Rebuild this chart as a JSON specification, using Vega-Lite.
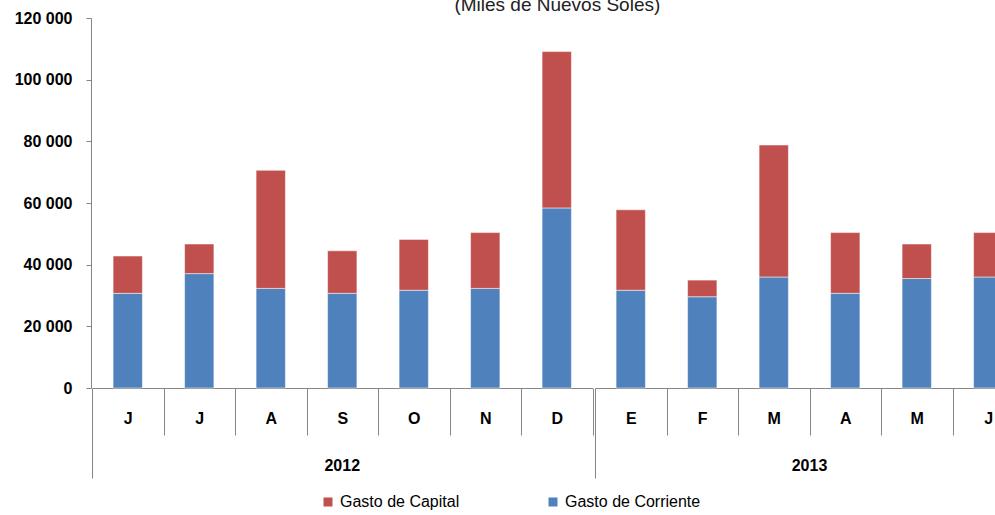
{
  "$schema": "https://vega.github.io/schema/vega-lite/v6.json",
  "padding": {"left": 14, "top": -4, "right": -26, "bottom": 0},
  "background": "white",
  "title": {"text": "(Miles de Nuevos Soles)", "fontSize": 19, "fontWeight": "normal", "font": "Liberation Sans", "color": "#222222", "anchor": "middle", "offset": -5, "dx": 38},
  "data": {"values": [
    {"year": "2012", "mes": "2012-06|J", "tipo": "Gasto de Corriente", "valor": 30700},
    {"year": "2012", "mes": "2012-06|J", "tipo": "Gasto de Capital", "valor": 12100},
    {"year": "2012", "mes": "2012-07|J", "tipo": "Gasto de Corriente", "valor": 37100},
    {"year": "2012", "mes": "2012-07|J", "tipo": "Gasto de Capital", "valor": 9600},
    {"year": "2012", "mes": "2012-08|A", "tipo": "Gasto de Corriente", "valor": 32300},
    {"year": "2012", "mes": "2012-08|A", "tipo": "Gasto de Capital", "valor": 38300},
    {"year": "2012", "mes": "2012-09|S", "tipo": "Gasto de Corriente", "valor": 30700},
    {"year": "2012", "mes": "2012-09|S", "tipo": "Gasto de Capital", "valor": 13800},
    {"year": "2012", "mes": "2012-10|O", "tipo": "Gasto de Corriente", "valor": 31700},
    {"year": "2012", "mes": "2012-10|O", "tipo": "Gasto de Capital", "valor": 16500},
    {"year": "2012", "mes": "2012-11|N", "tipo": "Gasto de Corriente", "valor": 32300},
    {"year": "2012", "mes": "2012-11|N", "tipo": "Gasto de Capital", "valor": 18100},
    {"year": "2012", "mes": "2012-12|D", "tipo": "Gasto de Corriente", "valor": 58400},
    {"year": "2012", "mes": "2012-12|D", "tipo": "Gasto de Capital", "valor": 50700},
    {"year": "2013", "mes": "2013-01|E", "tipo": "Gasto de Corriente", "valor": 31700},
    {"year": "2013", "mes": "2013-01|E", "tipo": "Gasto de Capital", "valor": 26100},
    {"year": "2013", "mes": "2013-02|F", "tipo": "Gasto de Corriente", "valor": 29600},
    {"year": "2013", "mes": "2013-02|F", "tipo": "Gasto de Capital", "valor": 5400},
    {"year": "2013", "mes": "2013-03|M", "tipo": "Gasto de Corriente", "valor": 36000},
    {"year": "2013", "mes": "2013-03|M", "tipo": "Gasto de Capital", "valor": 42800},
    {"year": "2013", "mes": "2013-04|A", "tipo": "Gasto de Corriente", "valor": 30700},
    {"year": "2013", "mes": "2013-04|A", "tipo": "Gasto de Capital", "valor": 19700},
    {"year": "2013", "mes": "2013-05|M", "tipo": "Gasto de Corriente", "valor": 35500},
    {"year": "2013", "mes": "2013-05|M", "tipo": "Gasto de Capital", "valor": 11200},
    {"year": "2013", "mes": "2013-06|J", "tipo": "Gasto de Corriente", "valor": 36000},
    {"year": "2013", "mes": "2013-06|J", "tipo": "Gasto de Capital", "valor": 14400}
  ]},
  "facet": {
    "column": {
      "field": "year", "type": "nominal",
      "header": {"title": null, "labelOrient": "bottom", "labelFontSize": 16, "labelFontWeight": "bold", "labelFont": "Liberation Sans", "labelColor": "black", "labelPadding": -21}
    }
  },
  "spacing": 0,
  "resolve": {"scale": {"x": "independent"}},
  "spec": {
    "width": {"step": 71.5},
    "height": 370,
    "mark": {"type": "bar", "width": {"band": 0.41}, "stroke": "white", "strokeOpacity": 0.5, "strokeWidth": 1},
    "encoding": {
      "x": {
        "field": "mes", "type": "ordinal", "title": null,
        "scale": {"paddingInner": 0, "paddingOuter": 0},
        "axis": {
          "tickBand": "extent",
          "labelExpr": "split(datum.value, '|')[1]",
          "labelAngle": 0,
          "labelFont": "Liberation Sans", "labelFontSize": 16, "labelFontWeight": "bold", "labelColor": "black",
          "labelBaseline": "middle", "labelPadding": -17,
          "domainColor": "#868686", "tickColor": "#868686",
          "tickSize": {"condition": {"test": "datum.index < 0", "value": 90}, "value": 47}
        }
      },
      "y": {
        "field": "valor", "type": "quantitative", "stack": "zero", "title": null,
        "scale": {"domain": [0, 120000]},
        "axis": {
          "values": [0, 20000, 40000, 60000, 80000, 100000, 120000],
          "grid": false,
          "labelExpr": "replace(format(datum.value, ','), ',', ' ')",
          "labelFont": "Liberation Sans", "labelFontSize": 16, "labelFontWeight": "bold", "labelColor": "black",
          "labelPadding": 14, "tickSize": 5,
          "domainColor": "#868686", "tickColor": "#868686"
        }
      },
      "color": {
        "field": "tipo", "type": "nominal",
        "scale": {"domain": ["Gasto de Capital", "Gasto de Corriente"], "range": ["#C0504D", "#4F81BD"]},
        "legend": {
          "title": null, "orient": "none", "direction": "horizontal",
          "legendX": 228, "legendY": 476,
          "symbolType": "square", "symbolSize": 81, "symbolStrokeWidth": 0,
          "labelFont": "Liberation Sans", "labelFontSize": 16, "labelColor": "black",
          "labelOffset": 4, "columnPadding": 85, "padding": 0
        }
      },
      "order": {"field": "tipo", "sort": "descending"}
    }
  },
  "config": {"view": {"stroke": null}}
}
